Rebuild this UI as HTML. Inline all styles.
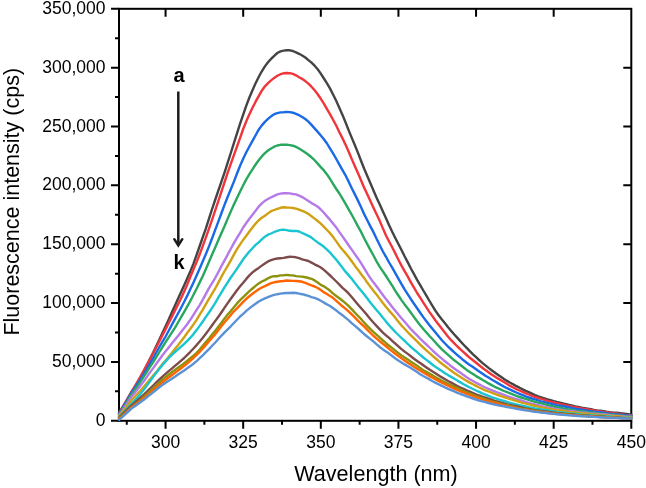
<!DOCTYPE html>
<html><head><meta charset="utf-8"><style>
html,body{margin:0;padding:0;background:#fff;}
svg{display:block;}
text{font-family:"Liberation Sans",sans-serif;fill:#000;}
</style></head><body>
<svg width="646" height="488" viewBox="0 0 646 488" style="will-change:transform">
<rect width="646" height="488" fill="#fff"/>

<g stroke="#000" stroke-width="2" fill="none">
<rect x="119.0" y="8.8" width="512.30" height="412.00"/>
<path d="M111.0,420.80H119.0M111.0,361.94H119.0M111.0,303.09H119.0M111.0,244.23H119.0M111.0,185.37H119.0M111.0,126.51H119.0M111.0,67.66H119.0M111.0,8.80H119.0M115.0,391.37H119.0M115.0,332.51H119.0M115.0,273.66H119.0M115.0,214.80H119.0M115.0,155.94H119.0M115.0,97.09H119.0M115.0,38.23H119.0M623.3,361.94H631.3M623.3,303.09H631.3M623.3,244.23H631.3M623.3,185.37H631.3M623.3,126.51H631.3M623.3,67.66H631.3M165.57,420.8V428.8M243.19,420.8V428.8M320.82,420.8V428.8M398.44,420.8V428.8M476.06,420.8V428.8M553.68,420.8V428.8M631.30,420.8V428.8M126.76,420.8V424.8M204.38,420.8V424.8M282.00,420.8V424.8M359.63,420.8V424.8M437.25,420.8V424.8M514.87,420.8V424.8M592.49,420.8V424.8M165.57,8.8V16.8M243.19,8.8V16.8M320.82,8.8V16.8M398.44,8.8V16.8M476.06,8.8V16.8M553.68,8.8V16.8"/>
</g>
<g fill="none" stroke-width="2.4" stroke-linejoin="round" stroke-linecap="round">
<path d="M119.0,412.6 L122.1,407.8 L125.2,402.8 L128.3,397.7 L131.4,392.6 L134.5,387.7 L137.6,382.6 L140.7,377.2 L143.8,371.3 L146.9,365.1 L150.0,358.9 L153.2,352.5 L156.3,345.9 L159.4,339.4 L162.5,332.8 L165.6,326.2 L168.7,319.4 L171.8,312.5 L174.9,305.7 L178.0,298.8 L181.1,292.1 L184.2,285.2 L187.3,278.3 L190.4,271.1 L193.5,263.6 L196.6,254.9 L199.7,246.0 L202.8,237.1 L205.9,228.3 L209.0,218.6 L212.1,209.0 L215.3,199.5 L218.4,190.3 L221.5,181.4 L224.6,172.3 L227.7,162.7 L230.8,153.0 L233.9,143.2 L237.0,133.3 L240.1,123.7 L243.2,114.6 L246.3,105.7 L249.4,97.5 L252.5,90.2 L255.6,83.3 L258.7,77.0 L261.8,71.3 L264.9,66.4 L268.0,62.3 L271.1,58.9 L274.2,55.8 L277.3,53.0 L280.5,51.4 L283.6,50.6 L286.7,50.2 L289.8,50.3 L292.9,51.0 L296.0,52.3 L299.1,53.8 L302.2,55.5 L305.3,57.5 L308.4,60.1 L311.5,62.7 L314.6,65.7 L317.7,69.2 L320.8,73.6 L323.9,78.5 L327.0,83.4 L330.1,88.6 L333.2,94.7 L336.3,101.1 L339.4,107.9 L342.5,114.9 L345.7,122.8 L348.8,130.6 L351.9,138.1 L355.0,145.5 L358.1,153.1 L361.2,161.2 L364.3,169.0 L367.4,176.3 L370.5,183.5 L373.6,190.8 L376.7,197.9 L379.8,204.6 L382.9,211.5 L386.0,218.2 L389.1,225.2 L392.2,231.8 L395.3,238.0 L398.4,244.0 L401.5,250.0 L404.6,256.3 L407.8,262.4 L410.9,268.5 L414.0,274.1 L417.1,279.9 L420.2,285.2 L423.3,290.5 L426.4,295.7 L429.5,301.0 L432.6,306.1 L435.7,311.1 L438.8,315.5 L441.9,319.5 L445.0,323.2 L448.1,327.2 L451.2,330.9 L454.3,334.5 L457.4,337.9 L460.5,341.4 L463.6,344.7 L466.7,347.9 L469.8,351.1 L473.0,354.3 L476.1,357.2 L479.2,360.1 L482.3,362.9 L485.4,365.4 L488.5,367.9 L491.6,370.2 L494.7,372.5 L497.8,374.7 L500.9,376.8 L504.0,378.9 L507.1,380.9 L510.2,382.7 L513.3,384.4 L516.4,386.2 L519.5,387.7 L522.6,389.4 L525.7,390.9 L528.8,392.2 L531.9,393.6 L535.0,395.0 L538.2,396.3 L541.3,397.3 L544.4,398.3 L547.5,399.3 L550.6,400.2 L553.7,401.1 L556.8,401.9 L559.9,402.6 L563.0,403.4 L566.1,404.1 L569.2,404.9 L572.3,405.6 L575.4,406.4 L578.5,407.0 L581.6,407.6 L584.7,408.1 L587.8,408.7 L590.9,409.3 L594.0,409.9 L597.1,410.4 L600.3,410.8 L603.4,411.2 L606.5,411.7 L609.6,412.1 L612.7,412.4 L615.8,412.6 L618.9,413.0 L622.0,413.4 L625.1,413.8 L628.2,414.1 L631.3,414.6" stroke="#444444"/>
<path d="M119.0,413.3 L122.1,408.2 L125.2,402.9 L128.3,397.4 L131.4,391.8 L134.5,386.8 L137.6,381.6 L140.7,376.1 L143.8,370.5 L146.9,364.9 L150.0,359.2 L153.2,353.3 L156.3,347.3 L159.4,341.2 L162.5,335.1 L165.6,329.1 L168.7,323.0 L171.8,316.9 L174.9,310.6 L178.0,304.5 L181.1,298.2 L184.2,291.5 L187.3,284.4 L190.4,276.8 L193.5,269.4 L196.6,262.1 L199.7,254.3 L202.8,245.9 L205.9,237.3 L209.0,228.6 L212.1,219.6 L215.3,210.1 L218.4,200.9 L221.5,191.3 L224.6,182.0 L227.7,172.7 L230.8,163.9 L233.9,155.2 L237.0,146.7 L240.1,137.9 L243.2,129.0 L246.3,121.3 L249.4,114.2 L252.5,107.7 L255.6,101.7 L258.7,96.1 L261.8,90.7 L264.9,86.3 L268.0,83.1 L271.1,80.4 L274.2,77.9 L277.3,75.8 L280.5,74.2 L283.6,73.3 L286.7,73.0 L289.8,73.2 L292.9,73.9 L296.0,75.3 L299.1,77.2 L302.2,78.9 L305.3,81.1 L308.4,83.6 L311.5,86.7 L314.6,90.3 L317.7,94.3 L320.8,98.8 L323.9,103.6 L327.0,109.1 L330.1,114.4 L333.2,120.0 L336.3,125.8 L339.4,132.3 L342.5,138.4 L345.7,145.0 L348.8,152.1 L351.9,159.4 L355.0,166.5 L358.1,173.4 L361.2,180.8 L364.3,188.0 L367.4,194.6 L370.5,201.2 L373.6,207.9 L376.7,214.5 L379.8,221.1 L382.9,228.4 L386.0,235.5 L389.1,241.5 L392.2,247.2 L395.3,253.4 L398.4,259.7 L401.5,265.6 L404.6,271.1 L407.8,276.7 L410.9,282.3 L414.0,287.7 L417.1,293.0 L420.2,297.7 L423.3,302.6 L426.4,307.3 L429.5,312.1 L432.6,316.4 L435.7,320.7 L438.8,324.7 L441.9,328.7 L445.0,332.7 L448.1,336.7 L451.2,340.2 L454.3,343.4 L457.4,346.5 L460.5,349.4 L463.6,352.1 L466.7,355.0 L469.8,357.8 L473.0,360.3 L476.1,362.8 L479.2,365.2 L482.3,367.7 L485.4,370.1 L488.5,372.2 L491.6,374.4 L494.7,376.4 L497.8,378.4 L500.9,380.2 L504.0,382.1 L507.1,384.0 L510.2,385.9 L513.3,387.5 L516.4,389.1 L519.5,390.5 L522.6,391.9 L525.7,393.3 L528.8,394.5 L531.9,395.8 L535.0,397.0 L538.2,398.0 L541.3,398.9 L544.4,399.8 L547.5,400.8 L550.6,401.7 L553.7,402.5 L556.8,403.2 L559.9,403.9 L563.0,404.6 L566.1,405.3 L569.2,406.0 L572.3,406.6 L575.4,407.2 L578.5,407.8 L581.6,408.4 L584.7,408.9 L587.8,409.4 L590.9,410.0 L594.0,410.5 L597.1,411.0 L600.3,411.5 L603.4,412.0 L606.5,412.3 L609.6,412.7 L612.7,413.1 L615.8,413.5 L618.9,413.9 L622.0,414.4 L625.1,414.9 L628.2,415.2 L631.3,415.2" stroke="#f0353b"/>
<path d="M119.0,414.0 L122.1,408.9 L125.2,403.7 L128.3,398.3 L131.4,392.9 L134.5,388.4 L137.6,383.7 L140.7,379.0 L143.8,373.9 L146.9,368.9 L150.0,363.6 L153.2,358.2 L156.3,352.5 L159.4,347.0 L162.5,341.7 L165.6,336.5 L168.7,330.8 L171.8,324.9 L174.9,319.1 L178.0,313.5 L181.1,307.7 L184.2,301.8 L187.3,295.6 L190.4,289.1 L193.5,282.4 L196.6,275.6 L199.7,268.5 L202.8,261.3 L205.9,254.0 L209.0,246.4 L212.1,238.3 L215.3,229.6 L218.4,221.4 L221.5,213.0 L224.6,204.7 L227.7,196.7 L230.8,189.3 L233.9,181.6 L237.0,173.5 L240.1,165.8 L243.2,158.7 L246.3,152.3 L249.4,146.5 L252.5,140.9 L255.6,135.2 L258.7,129.7 L261.8,125.4 L264.9,121.9 L268.0,118.9 L271.1,116.3 L274.2,114.2 L277.3,113.1 L280.5,112.4 L283.6,112.2 L286.7,111.9 L289.8,112.1 L292.9,112.7 L296.0,113.9 L299.1,115.2 L302.2,117.0 L305.3,119.0 L308.4,121.7 L311.5,124.9 L314.6,128.4 L317.7,131.9 L320.8,135.5 L323.9,139.2 L327.0,143.5 L330.1,148.6 L333.2,153.6 L336.3,159.0 L339.4,164.6 L342.5,170.1 L345.7,175.7 L348.8,181.9 L351.9,188.5 L355.0,194.6 L358.1,200.9 L361.2,207.5 L364.3,214.4 L367.4,220.5 L370.5,226.6 L373.6,232.4 L376.7,239.0 L379.8,245.2 L382.9,251.5 L386.0,256.8 L389.1,262.5 L392.2,267.6 L395.3,273.1 L398.4,278.7 L401.5,284.1 L404.6,289.4 L407.8,294.4 L410.9,299.2 L414.0,303.7 L417.1,308.2 L420.2,312.7 L423.3,317.1 L426.4,321.2 L429.5,325.2 L432.6,329.1 L435.7,332.8 L438.8,336.5 L441.9,340.2 L445.0,343.5 L448.1,346.6 L451.2,349.5 L454.3,352.4 L457.4,355.1 L460.5,357.7 L463.6,360.3 L466.7,362.7 L469.8,365.0 L473.0,367.1 L476.1,369.3 L479.2,371.5 L482.3,373.6 L485.4,375.7 L488.5,377.6 L491.6,379.5 L494.7,381.3 L497.8,383.1 L500.9,384.9 L504.0,386.6 L507.1,388.2 L510.2,389.6 L513.3,391.1 L516.4,392.5 L519.5,393.8 L522.6,395.1 L525.7,396.4 L528.8,397.5 L531.9,398.5 L535.0,399.4 L538.2,400.4 L541.3,401.3 L544.4,402.1 L547.5,402.9 L550.6,403.6 L553.7,404.4 L556.8,405.1 L559.9,405.7 L563.0,406.2 L566.1,406.8 L569.2,407.4 L572.3,408.1 L575.4,408.7 L578.5,409.2 L581.6,409.7 L584.7,410.2 L587.8,410.8 L590.9,411.3 L594.0,411.6 L597.1,411.9 L600.3,412.3 L603.4,412.8 L606.5,413.2 L609.6,413.6 L612.7,413.9 L615.8,414.2 L618.9,414.6 L622.0,414.9 L625.1,415.3 L628.2,415.6 L631.3,415.8" stroke="#1a6ae6"/>
<path d="M119.0,414.8 L122.1,409.9 L125.2,404.8 L128.3,399.6 L131.4,394.4 L134.5,390.3 L137.6,386.0 L140.7,381.4 L143.8,376.6 L146.9,371.8 L150.0,366.9 L153.2,362.1 L156.3,357.1 L159.4,352.0 L162.5,347.0 L165.6,342.1 L168.7,337.4 L171.8,332.7 L174.9,327.8 L178.0,322.5 L181.1,317.2 L184.2,311.9 L187.3,306.4 L190.4,300.7 L193.5,294.7 L196.6,288.7 L199.7,282.4 L202.8,275.9 L205.9,269.0 L209.0,261.8 L212.1,254.5 L215.3,247.2 L218.4,240.1 L221.5,233.0 L224.6,225.9 L227.7,218.6 L230.8,211.5 L233.9,204.5 L237.0,197.9 L240.1,191.5 L243.2,185.2 L246.3,179.4 L249.4,174.1 L252.5,169.3 L255.6,164.5 L258.7,160.2 L261.8,156.4 L264.9,153.2 L268.0,150.5 L271.1,148.5 L274.2,146.7 L277.3,145.5 L280.5,144.8 L283.6,144.7 L286.7,144.6 L289.8,145.1 L292.9,145.7 L296.0,146.9 L299.1,148.5 L302.2,150.6 L305.3,152.6 L308.4,154.8 L311.5,157.3 L314.6,160.2 L317.7,163.6 L320.8,167.1 L323.9,170.4 L327.0,174.4 L330.1,179.0 L333.2,184.1 L336.3,189.0 L339.4,193.5 L342.5,198.7 L345.7,204.2 L348.8,209.6 L351.9,215.0 L355.0,220.7 L358.1,226.6 L361.2,232.2 L364.3,238.5 L367.4,244.4 L370.5,250.1 L373.6,255.8 L376.7,261.6 L379.8,266.8 L382.9,271.4 L386.0,276.0 L389.1,280.8 L392.2,285.7 L395.3,290.8 L398.4,295.5 L401.5,300.1 L404.6,304.4 L407.8,308.6 L410.9,312.8 L414.0,317.1 L417.1,321.3 L420.2,325.2 L423.3,328.9 L426.4,332.5 L429.5,336.0 L432.6,339.3 L435.7,342.7 L438.8,346.1 L441.9,349.4 L445.0,352.2 L448.1,354.9 L451.2,357.6 L454.3,360.3 L457.4,362.6 L460.5,365.0 L463.6,367.5 L466.7,369.9 L469.8,372.0 L473.0,374.0 L476.1,376.1 L479.2,377.9 L482.3,379.7 L485.4,381.5 L488.5,383.4 L491.6,385.1 L494.7,386.8 L497.8,388.2 L500.9,389.6 L504.0,391.0 L507.1,392.2 L510.2,393.4 L513.3,394.6 L516.4,395.9 L519.5,397.0 L522.6,398.0 L525.7,398.9 L528.8,399.9 L531.9,400.9 L535.0,401.8 L538.2,402.6 L541.3,403.4 L544.4,404.2 L547.5,405.0 L550.6,405.8 L553.7,406.5 L556.8,407.1 L559.9,407.8 L563.0,408.4 L566.1,409.0 L569.2,409.5 L572.3,410.1 L575.4,410.6 L578.5,411.0 L581.6,411.4 L584.7,411.8 L587.8,412.2 L590.9,412.5 L594.0,412.8 L597.1,413.1 L600.3,413.5 L603.4,413.8 L606.5,414.2 L609.6,414.5 L612.7,414.7 L615.8,415.1 L618.9,415.4 L622.0,415.8 L625.1,416.1 L628.2,416.4 L631.3,416.4" stroke="#2aa75f"/>
<path d="M119.0,415.7 L122.1,411.2 L125.2,406.5 L128.3,401.7 L131.4,396.8 L134.5,393.2 L137.6,389.3 L140.7,385.4 L143.8,381.3 L146.9,376.9 L150.0,372.4 L153.2,368.1 L156.3,363.8 L159.4,359.5 L162.5,355.3 L165.6,351.3 L168.7,347.4 L171.8,343.6 L174.9,339.7 L178.0,335.9 L181.1,331.9 L184.2,328.1 L187.3,324.0 L190.4,319.6 L193.5,314.8 L196.6,309.9 L199.7,305.1 L202.8,299.6 L205.9,293.9 L209.0,288.1 L212.1,283.1 L215.3,277.8 L218.4,272.0 L221.5,265.9 L224.6,260.3 L227.7,254.7 L230.8,248.8 L233.9,243.1 L237.0,237.9 L240.1,232.8 L243.2,227.5 L246.3,223.0 L249.4,218.8 L252.5,214.8 L255.6,210.7 L258.7,206.6 L261.8,203.4 L264.9,200.8 L268.0,199.0 L271.1,197.3 L274.2,195.9 L277.3,194.4 L280.5,193.6 L283.6,193.2 L286.7,193.3 L289.8,193.4 L292.9,194.0 L296.0,194.4 L299.1,195.6 L302.2,197.1 L305.3,199.1 L308.4,201.0 L311.5,203.1 L314.6,204.8 L317.7,206.7 L320.8,209.5 L323.9,212.8 L327.0,216.4 L330.1,219.9 L333.2,223.7 L336.3,227.6 L339.4,232.1 L342.5,236.4 L345.7,241.0 L348.8,245.5 L351.9,249.9 L355.0,254.4 L358.1,258.7 L361.2,263.3 L364.3,268.4 L367.4,273.7 L370.5,278.4 L373.6,282.6 L376.7,286.5 L379.8,290.8 L382.9,295.0 L386.0,299.1 L389.1,303.0 L392.2,307.0 L395.3,310.8 L398.4,314.6 L401.5,318.2 L404.6,321.8 L407.8,325.5 L410.9,329.1 L414.0,332.4 L417.1,335.4 L420.2,338.7 L423.3,341.6 L426.4,344.5 L429.5,347.5 L432.6,350.5 L435.7,353.3 L438.8,356.1 L441.9,358.7 L445.0,361.3 L448.1,363.7 L451.2,366.3 L454.3,368.5 L457.4,370.7 L460.5,372.8 L463.6,375.1 L466.7,377.2 L469.8,379.2 L473.0,381.0 L476.1,382.7 L479.2,384.4 L482.3,386.0 L485.4,387.5 L488.5,388.9 L491.6,390.1 L494.7,391.3 L497.8,392.5 L500.9,393.7 L504.0,394.9 L507.1,396.1 L510.2,397.2 L513.3,398.2 L516.4,399.1 L519.5,400.0 L522.6,400.9 L525.7,401.9 L528.8,402.8 L531.9,403.7 L535.0,404.5 L538.2,405.2 L541.3,406.0 L544.4,406.8 L547.5,407.4 L550.6,408.0 L553.7,408.6 L556.8,409.2 L559.9,409.7 L563.0,410.2 L566.1,410.6 L569.2,410.9 L572.3,411.3 L575.4,411.7 L578.5,412.1 L581.6,412.4 L584.7,412.8 L587.8,413.2 L590.9,413.5 L594.0,413.6 L597.1,413.9 L600.3,414.2 L603.4,414.5 L606.5,414.8 L609.6,415.1 L612.7,415.4 L615.8,415.6 L618.9,415.9 L622.0,416.1 L625.1,416.6 L628.2,416.8 L631.3,417.0" stroke="#b579e8"/>
<path d="M119.0,416.1 L122.1,412.3 L125.2,408.4 L128.3,404.4 L131.4,400.2 L134.5,397.0 L137.6,393.7 L140.7,390.3 L143.8,386.7 L146.9,383.0 L150.0,379.3 L153.2,375.6 L156.3,371.9 L159.4,368.0 L162.5,364.1 L165.6,360.4 L168.7,356.8 L171.8,353.1 L174.9,349.1 L178.0,345.3 L181.1,341.3 L184.2,337.2 L187.3,332.8 L190.4,328.7 L193.5,324.4 L196.6,319.8 L199.7,314.7 L202.8,309.7 L205.9,304.2 L209.0,298.8 L212.1,293.6 L215.3,288.3 L218.4,282.6 L221.5,276.6 L224.6,271.0 L227.7,265.8 L230.8,260.4 L233.9,254.6 L237.0,249.2 L240.1,244.4 L243.2,239.9 L246.3,235.7 L249.4,231.5 L252.5,227.6 L255.6,223.6 L258.7,220.3 L261.8,217.8 L264.9,215.7 L268.0,213.4 L271.1,211.2 L274.2,210.0 L277.3,208.8 L280.5,207.8 L283.6,207.2 L286.7,207.5 L289.8,207.6 L292.9,208.0 L296.0,208.6 L299.1,209.6 L302.2,210.9 L305.3,212.2 L308.4,213.9 L311.5,216.2 L314.6,218.6 L317.7,221.0 L320.8,223.7 L323.9,226.8 L327.0,230.0 L330.1,233.2 L333.2,237.1 L336.3,241.4 L339.4,245.9 L342.5,249.7 L345.7,253.4 L348.8,257.3 L351.9,261.5 L355.0,265.9 L358.1,269.9 L361.2,274.2 L364.3,278.2 L367.4,282.8 L370.5,286.9 L373.6,290.9 L376.7,294.8 L379.8,298.9 L382.9,303.0 L386.0,306.9 L389.1,310.6 L392.2,314.1 L395.3,317.8 L398.4,321.7 L401.5,325.5 L404.6,328.8 L407.8,332.2 L410.9,335.4 L414.0,338.4 L417.1,341.4 L420.2,344.6 L423.3,347.5 L426.4,350.4 L429.5,353.1 L432.6,355.8 L435.7,358.5 L438.8,361.2 L441.9,363.7 L445.0,366.0 L448.1,368.4 L451.2,370.8 L454.3,373.0 L457.4,375.1 L460.5,377.1 L463.6,379.0 L466.7,380.9 L469.8,382.6 L473.0,384.3 L476.1,385.9 L479.2,387.5 L482.3,388.9 L485.4,390.3 L488.5,391.5 L491.6,392.7 L494.7,393.9 L497.8,395.0 L500.9,396.1 L504.0,397.1 L507.1,398.1 L510.2,399.1 L513.3,400.0 L516.4,400.8 L519.5,401.8 L522.6,402.8 L525.7,403.6 L528.8,404.3 L531.9,405.0 L535.0,406.0 L538.2,406.7 L541.3,407.4 L544.4,408.0 L547.5,408.6 L550.6,409.2 L553.7,409.7 L556.8,410.1 L559.9,410.5 L563.0,410.9 L566.1,411.5 L569.2,411.9 L572.3,412.2 L575.4,412.5 L578.5,412.9 L581.6,413.2 L584.7,413.4 L587.8,413.7 L590.9,414.1 L594.0,414.5 L597.1,414.7 L600.3,415.0 L603.4,415.2 L606.5,415.5 L609.6,415.7 L612.7,416.0 L615.8,416.2 L618.9,416.4 L622.0,416.6 L625.1,416.9 L628.2,417.1 L631.3,417.3" stroke="#d1a012"/>
<path d="M119.0,417.0 L122.1,413.9 L125.2,410.7 L128.3,407.4 L131.4,403.8 L134.5,400.6 L137.6,397.2 L140.7,393.6 L143.8,389.7 L146.9,385.6 L150.0,381.3 L153.2,376.9 L156.3,372.7 L159.4,368.7 L162.5,364.9 L165.6,361.4 L168.7,358.0 L171.8,354.9 L174.9,352.0 L178.0,349.3 L181.1,346.6 L184.2,343.9 L187.3,340.8 L190.4,337.7 L193.5,334.1 L196.6,330.1 L199.7,325.9 L202.8,321.5 L205.9,316.9 L209.0,312.5 L212.1,307.8 L215.3,302.8 L218.4,297.4 L221.5,292.4 L224.6,287.2 L227.7,282.4 L230.8,277.5 L233.9,273.1 L237.0,268.7 L240.1,264.0 L243.2,259.3 L246.3,255.3 L249.4,251.5 L252.5,248.2 L255.6,244.9 L258.7,242.3 L261.8,239.3 L264.9,236.7 L268.0,234.7 L271.1,233.5 L274.2,232.0 L277.3,230.8 L280.5,229.9 L283.6,229.6 L286.7,230.1 L289.8,230.8 L292.9,231.0 L296.0,230.9 L299.1,231.5 L302.2,233.0 L305.3,234.4 L308.4,235.8 L311.5,237.6 L314.6,240.1 L317.7,242.4 L320.8,244.5 L323.9,246.8 L327.0,249.6 L330.1,252.6 L333.2,256.2 L336.3,259.8 L339.4,263.8 L342.5,267.7 L345.7,271.9 L348.8,275.4 L351.9,279.0 L355.0,283.1 L358.1,287.1 L361.2,290.7 L364.3,294.5 L367.4,298.5 L370.5,302.7 L373.6,306.4 L376.7,310.2 L379.8,313.8 L382.9,317.8 L386.0,321.6 L389.1,325.2 L392.2,328.6 L395.3,332.0 L398.4,335.0 L401.5,338.0 L404.6,340.9 L407.8,344.0 L410.9,346.9 L414.0,349.6 L417.1,352.2 L420.2,354.8 L423.3,357.5 L426.4,359.9 L429.5,362.3 L432.6,364.8 L435.7,366.9 L438.8,368.9 L441.9,371.0 L445.0,373.2 L448.1,375.1 L451.2,376.9 L454.3,378.7 L457.4,380.6 L460.5,382.4 L463.6,384.2 L466.7,385.9 L469.8,387.5 L473.0,389.0 L476.1,390.5 L479.2,391.9 L482.3,393.3 L485.4,394.6 L488.5,395.9 L491.6,397.1 L494.7,398.1 L497.8,399.2 L500.9,400.1 L504.0,401.0 L507.1,402.0 L510.2,402.8 L513.3,403.6 L516.4,404.4 L519.5,405.2 L522.6,405.8 L525.7,406.5 L528.8,407.2 L531.9,407.8 L535.0,408.5 L538.2,409.0 L541.3,409.5 L544.4,409.9 L547.5,410.3 L550.6,410.9 L553.7,411.4 L556.8,411.9 L559.9,412.3 L563.0,412.5 L566.1,412.9 L569.2,413.4 L572.3,413.7 L575.4,414.0 L578.5,414.3 L581.6,414.7 L584.7,414.9 L587.8,415.0 L590.9,415.3 L594.0,415.5 L597.1,415.6 L600.3,415.8 L603.4,416.1 L606.5,416.3 L609.6,416.5 L612.7,416.9 L615.8,417.1 L618.9,417.3 L622.0,417.4 L625.1,417.7 L628.2,417.8 L631.3,417.8" stroke="#18c5d0"/>
<path d="M119.0,417.6 L122.1,414.6 L125.2,411.6 L128.3,408.6 L131.4,405.6 L134.5,403.0 L137.6,400.2 L140.7,397.4 L143.8,394.6 L146.9,391.6 L150.0,388.6 L153.2,385.5 L156.3,382.4 L159.4,379.5 L162.5,376.7 L165.6,373.8 L168.7,371.1 L171.8,368.6 L174.9,365.9 L178.0,363.3 L181.1,360.7 L184.2,358.0 L187.3,354.9 L190.4,351.8 L193.5,348.5 L196.6,345.1 L199.7,341.4 L202.8,337.7 L205.9,333.8 L209.0,329.6 L212.1,325.2 L215.3,320.9 L218.4,316.7 L221.5,312.3 L224.6,307.7 L227.7,303.1 L230.8,298.8 L233.9,294.5 L237.0,290.3 L240.1,286.3 L243.2,282.7 L246.3,278.9 L249.4,275.4 L252.5,272.4 L255.6,270.0 L258.7,267.9 L261.8,265.6 L264.9,263.4 L268.0,261.4 L271.1,260.1 L274.2,259.1 L277.3,258.5 L280.5,258.2 L283.6,257.9 L286.7,257.3 L289.8,256.8 L292.9,256.9 L296.0,257.3 L299.1,258.2 L302.2,259.4 L305.3,260.1 L308.4,261.0 L311.5,262.6 L314.6,264.3 L317.7,265.8 L320.8,267.5 L323.9,269.9 L327.0,272.6 L330.1,275.5 L333.2,278.5 L336.3,281.5 L339.4,284.6 L342.5,287.8 L345.7,290.6 L348.8,293.7 L351.9,297.3 L355.0,301.0 L358.1,304.7 L361.2,308.3 L364.3,311.8 L367.4,315.4 L370.5,319.2 L373.6,322.8 L376.7,326.1 L379.8,329.4 L382.9,332.6 L386.0,335.3 L389.1,337.9 L392.2,340.8 L395.3,343.6 L398.4,346.3 L401.5,349.1 L404.6,351.6 L407.8,353.9 L410.9,356.3 L414.0,358.7 L417.1,360.9 L420.2,363.0 L423.3,365.3 L426.4,367.5 L429.5,369.6 L432.6,371.6 L435.7,373.5 L438.8,375.4 L441.9,377.4 L445.0,379.2 L448.1,381.0 L451.2,382.6 L454.3,384.4 L457.4,386.0 L460.5,387.5 L463.6,388.9 L466.7,390.3 L469.8,391.6 L473.0,393.0 L476.1,394.3 L479.2,395.5 L482.3,396.6 L485.4,397.6 L488.5,398.7 L491.6,399.7 L494.7,400.8 L497.8,401.7 L500.9,402.6 L504.0,403.5 L507.1,404.3 L510.2,405.0 L513.3,405.6 L516.4,406.2 L519.5,407.0 L522.6,407.7 L525.7,408.4 L528.8,409.0 L531.9,409.6 L535.0,410.2 L538.2,410.6 L541.3,411.0 L544.4,411.4 L547.5,411.8 L550.6,412.2 L553.7,412.6 L556.8,413.0 L559.9,413.3 L563.0,413.6 L566.1,413.9 L569.2,414.2 L572.3,414.5 L575.4,414.8 L578.5,415.1 L581.6,415.2 L584.7,415.5 L587.8,415.7 L590.9,416.0 L594.0,416.2 L597.1,416.3 L600.3,416.4 L603.4,416.6 L606.5,417.0 L609.6,417.2 L612.7,417.4 L615.8,417.5 L618.9,417.7 L622.0,418.0 L625.1,418.2 L628.2,418.2 L631.3,418.1" stroke="#7d4b4b"/>
<path d="M119.0,418.3 L122.1,415.8 L125.2,413.2 L128.3,410.4 L131.4,407.4 L134.5,404.9 L137.6,402.4 L140.7,399.8 L143.8,397.0 L146.9,394.1 L150.0,391.3 L153.2,388.4 L156.3,385.5 L159.4,382.6 L162.5,379.7 L165.6,377.1 L168.7,374.7 L171.8,372.3 L174.9,370.0 L178.0,367.8 L181.1,365.6 L184.2,363.2 L187.3,360.7 L190.4,358.2 L193.5,355.6 L196.6,352.8 L199.7,349.5 L202.8,345.8 L205.9,342.1 L209.0,338.5 L212.1,334.6 L215.3,330.8 L218.4,326.8 L221.5,322.7 L224.6,318.4 L227.7,314.5 L230.8,311.0 L233.9,307.3 L237.0,303.4 L240.1,300.1 L243.2,297.1 L246.3,294.1 L249.4,291.2 L252.5,288.5 L255.6,285.9 L258.7,283.4 L261.8,281.5 L264.9,280.1 L268.0,278.3 L271.1,276.9 L274.2,276.2 L277.3,276.2 L280.5,275.4 L283.6,275.2 L286.7,274.9 L289.8,275.3 L292.9,275.4 L296.0,276.1 L299.1,276.4 L302.2,276.6 L305.3,277.2 L308.4,278.0 L311.5,278.8 L314.6,280.4 L317.7,282.5 L320.8,284.9 L323.9,286.3 L327.0,288.4 L330.1,290.8 L333.2,293.6 L336.3,296.0 L339.4,298.2 L342.5,300.7 L345.7,303.4 L348.8,306.2 L351.9,309.4 L355.0,312.7 L358.1,316.0 L361.2,319.2 L364.3,322.7 L367.4,326.1 L370.5,329.2 L373.6,332.1 L376.7,334.9 L379.8,337.7 L382.9,340.5 L386.0,343.2 L389.1,345.7 L392.2,348.1 L395.3,350.6 L398.4,353.1 L401.5,355.5 L404.6,357.6 L407.8,359.6 L410.9,361.7 L414.0,363.7 L417.1,365.8 L420.2,368.1 L423.3,370.2 L426.4,371.9 L429.5,373.6 L432.6,375.4 L435.7,377.3 L438.8,379.0 L441.9,380.7 L445.0,382.3 L448.1,383.9 L451.2,385.4 L454.3,386.8 L457.4,388.2 L460.5,389.6 L463.6,391.0 L466.7,392.3 L469.8,393.7 L473.0,394.9 L476.1,396.1 L479.2,397.1 L482.3,398.1 L485.4,399.2 L488.5,400.3 L491.6,401.4 L494.7,402.2 L497.8,403.0 L500.9,403.8 L504.0,404.6 L507.1,405.3 L510.2,405.9 L513.3,406.7 L516.4,407.5 L519.5,408.1 L522.6,408.6 L525.7,409.1 L528.8,409.7 L531.9,410.1 L535.0,410.6 L538.2,411.1 L541.3,411.6 L544.4,412.1 L547.5,412.5 L550.6,412.9 L553.7,413.2 L556.8,413.5 L559.9,413.7 L563.0,414.0 L566.1,414.3 L569.2,414.6 L572.3,414.9 L575.4,415.1 L578.5,415.4 L581.6,415.5 L584.7,415.7 L587.8,416.0 L590.9,416.2 L594.0,416.5 L597.1,416.6 L600.3,416.7 L603.4,416.9 L606.5,417.1 L609.6,417.3 L612.7,417.6 L615.8,417.8 L618.9,417.9 L622.0,418.0 L625.1,418.1 L628.2,418.2 L631.3,418.4" stroke="#8c920c"/>
<path d="M119.0,419.0 L122.1,416.3 L125.2,413.5 L128.3,410.6 L131.4,407.6 L134.5,405.4 L137.6,403.1 L140.7,400.7 L143.8,398.3 L146.9,395.7 L150.0,393.0 L153.2,390.2 L156.3,387.5 L159.4,384.9 L162.5,382.3 L165.6,379.8 L168.7,377.4 L171.8,375.2 L174.9,372.9 L178.0,370.6 L181.1,368.3 L184.2,365.9 L187.3,363.3 L190.4,360.7 L193.5,357.8 L196.6,354.9 L199.7,351.8 L202.8,348.5 L205.9,344.9 L209.0,341.3 L212.1,337.7 L215.3,334.1 L218.4,330.0 L221.5,326.1 L224.6,322.3 L227.7,318.7 L230.8,314.9 L233.9,311.3 L237.0,308.4 L240.1,305.2 L243.2,301.9 L246.3,298.8 L249.4,296.3 L252.5,293.8 L255.6,291.4 L258.7,289.2 L261.8,287.5 L264.9,286.1 L268.0,284.6 L271.1,283.2 L274.2,282.3 L277.3,281.8 L280.5,281.3 L283.6,281.0 L286.7,280.5 L289.8,280.7 L292.9,280.9 L296.0,281.0 L299.1,281.2 L302.2,281.8 L305.3,282.9 L308.4,284.2 L311.5,285.4 L314.6,286.5 L317.7,288.0 L320.8,290.0 L323.9,292.2 L327.0,294.1 L330.1,296.1 L333.2,298.1 L336.3,300.8 L339.4,303.6 L342.5,306.3 L345.7,308.9 L348.8,311.6 L351.9,314.5 L355.0,317.7 L358.1,320.9 L361.2,323.8 L364.3,326.6 L367.4,329.8 L370.5,333.0 L373.6,336.0 L376.7,338.7 L379.8,341.3 L382.9,343.9 L386.0,346.3 L389.1,348.9 L392.2,351.4 L395.3,353.8 L398.4,356.1 L401.5,358.4 L404.6,360.6 L407.8,362.7 L410.9,364.8 L414.0,366.8 L417.1,368.7 L420.2,370.6 L423.3,372.5 L426.4,374.3 L429.5,376.1 L432.6,377.7 L435.7,379.4 L438.8,381.1 L441.9,382.7 L445.0,384.2 L448.1,385.7 L451.2,387.2 L454.3,388.6 L457.4,390.0 L460.5,391.3 L463.6,392.5 L466.7,393.8 L469.8,395.0 L473.0,396.2 L476.1,397.3 L479.2,398.3 L482.3,399.4 L485.4,400.3 L488.5,401.2 L491.6,402.2 L494.7,403.0 L497.8,403.7 L500.9,404.4 L504.0,405.2 L507.1,405.9 L510.2,406.6 L513.3,407.3 L516.4,407.9 L519.5,408.6 L522.6,409.1 L525.7,409.7 L528.8,410.2 L531.9,410.7 L535.0,411.3 L538.2,411.7 L541.3,412.0 L544.4,412.4 L547.5,412.8 L550.6,413.2 L553.7,413.5 L556.8,413.8 L559.9,414.1 L563.0,414.4 L566.1,414.7 L569.2,414.9 L572.3,415.1 L575.4,415.3 L578.5,415.7 L581.6,415.9 L584.7,416.1 L587.8,416.2 L590.9,416.4 L594.0,416.6 L597.1,416.8 L600.3,417.1 L603.4,417.3 L606.5,417.4 L609.6,417.5 L612.7,417.7 L615.8,417.8 L618.9,417.9 L622.0,418.0 L625.1,418.2 L628.2,418.3 L631.3,418.4" stroke="#ff6400"/>
<path d="M119.0,419.8 L122.1,417.1 L125.2,414.3 L128.3,411.5 L131.4,408.6 L134.5,406.5 L137.6,404.3 L140.7,402.0 L143.8,399.7 L146.9,397.3 L150.0,394.7 L153.2,392.2 L156.3,389.7 L159.4,387.3 L162.5,384.9 L165.6,382.8 L168.7,380.7 L171.8,378.7 L174.9,376.7 L178.0,374.6 L181.1,372.5 L184.2,370.4 L187.3,368.3 L190.4,366.1 L193.5,363.7 L196.6,361.1 L199.7,358.2 L202.8,355.3 L205.9,352.2 L209.0,349.1 L212.1,345.8 L215.3,342.5 L218.4,339.0 L221.5,335.6 L224.6,332.4 L227.7,329.4 L230.8,326.3 L233.9,323.0 L237.0,319.7 L240.1,316.5 L243.2,313.8 L246.3,310.9 L249.4,308.4 L252.5,305.9 L255.6,303.7 L258.7,301.5 L261.8,299.9 L264.9,298.4 L268.0,297.1 L271.1,295.8 L274.2,294.9 L277.3,294.2 L280.5,293.6 L283.6,293.2 L286.7,293.0 L289.8,293.0 L292.9,292.8 L296.0,293.0 L299.1,293.6 L302.2,294.2 L305.3,295.0 L308.4,295.9 L311.5,297.1 L314.6,297.9 L317.7,299.1 L320.8,300.7 L323.9,302.6 L327.0,304.4 L330.1,306.0 L333.2,308.2 L336.3,310.4 L339.4,313.1 L342.5,315.3 L345.7,317.9 L348.8,320.4 L351.9,323.4 L355.0,325.9 L358.1,328.5 L361.2,331.4 L364.3,334.2 L367.4,336.7 L370.5,339.1 L373.6,341.7 L376.7,344.3 L379.8,347.0 L382.9,349.4 L386.0,351.4 L389.1,353.6 L392.2,356.0 L395.3,358.4 L398.4,360.5 L401.5,362.4 L404.6,364.4 L407.8,366.2 L410.9,368.1 L414.0,370.1 L417.1,372.1 L420.2,374.2 L423.3,376.0 L426.4,377.7 L429.5,379.4 L432.6,381.2 L435.7,382.9 L438.8,384.4 L441.9,385.8 L445.0,387.4 L448.1,388.8 L451.2,390.1 L454.3,391.4 L457.4,392.8 L460.5,394.0 L463.6,395.1 L466.7,396.3 L469.8,397.4 L473.0,398.5 L476.1,399.6 L479.2,400.6 L482.3,401.4 L485.4,402.2 L488.5,403.0 L491.6,403.8 L494.7,404.5 L497.8,405.2 L500.9,405.8 L504.0,406.4 L507.1,407.0 L510.2,407.5 L513.3,408.1 L516.4,408.7 L519.5,409.3 L522.6,409.7 L525.7,410.2 L528.8,410.6 L531.9,411.2 L535.0,411.7 L538.2,412.1 L541.3,412.5 L544.4,412.8 L547.5,413.2 L550.6,413.5 L553.7,413.9 L556.8,414.2 L559.9,414.5 L563.0,414.8 L566.1,415.1 L569.2,415.3 L572.3,415.6 L575.4,415.8 L578.5,416.0 L581.6,416.2 L584.7,416.4 L587.8,416.5 L590.9,416.7 L594.0,416.9 L597.1,417.1 L600.3,417.3 L603.4,417.5 L606.5,417.6 L609.6,417.7 L612.7,417.8 L615.8,417.9 L618.9,418.1 L622.0,418.3 L625.1,418.5 L628.2,418.5 L631.3,418.6" stroke="#5b92d6"/>
</g>
<g font-size="17.5">
<text x="105.5" y="425.80" text-anchor="end">0</text>
<text x="105.5" y="366.94" text-anchor="end">50,000</text>
<text x="105.5" y="308.09" text-anchor="end">100,000</text>
<text x="105.5" y="249.23" text-anchor="end">150,000</text>
<text x="105.5" y="190.37" text-anchor="end">200,000</text>
<text x="105.5" y="131.51" text-anchor="end">250,000</text>
<text x="105.5" y="72.66" text-anchor="end">300,000</text>
<text x="105.5" y="13.80" text-anchor="end">350,000</text>
<text x="165.57" y="448" text-anchor="middle">300</text>
<text x="243.19" y="448" text-anchor="middle">325</text>
<text x="320.82" y="448" text-anchor="middle">350</text>
<text x="398.44" y="448" text-anchor="middle">375</text>
<text x="476.06" y="448" text-anchor="middle">400</text>
<text x="553.68" y="448" text-anchor="middle">425</text>
<text x="631.30" y="448" text-anchor="middle">450</text>
</g>
<text x="294.2" y="481.2" font-size="21.6">Wavelength (nm)</text>
<text transform="translate(18.5,335.6) rotate(-90)" font-size="21.5">Fluorescence intensity (cps)</text>
<g font-weight="bold" font-size="20" text-anchor="middle">
<text x="179" y="82">a</text>
<text x="179" y="269">k</text>
</g>
<g stroke="#1c1c1c" stroke-width="2.5" fill="none">
<line x1="178.3" y1="91.5" x2="178.3" y2="245"/>
<polyline points="174.3,239.2 178.3,245.5 182.3,239.2" stroke-linejoin="miter" stroke-linecap="round"/>
</g>
</svg>
</body></html>
